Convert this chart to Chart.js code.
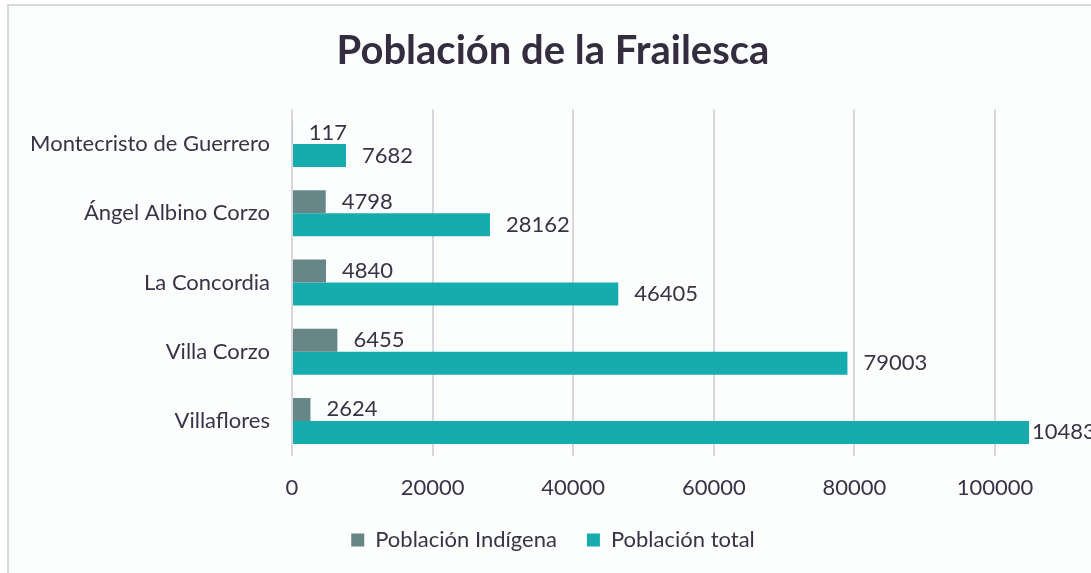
<!DOCTYPE html>
<html>
<head>
<meta charset="utf-8">
<script src="https://cdn.jsdelivr.net/npm/chart.js@4"></script>
<style>
  html, body { margin: 0; padding: 0; background: #ffffff; overflow: hidden; width: 1091px; height: 573px; }
  #box { position: absolute; left: 7px; top: 4px; width: 1088px; height: 600px; border-left: 2px solid #d9d9dd; border-top: 2px solid #d9d9dd; background: #fcfdfd; }
  canvas { display: block; }
</style>
</head>
<body>
<div id="box"><canvas id="c" width="1088" height="555"></canvas></div>
<script>
const titleText = 'Población de la Frailesca';
const categories = ['Montecristo de Guerrero', 'Ángel Albino Corzo', 'La Concordia', 'Villa Corzo', 'Villaflores'];
const seriesNames = ['Población Indígena', 'Población total'];
const indigenous = [117, 4798, 4840, 6455, 2624];
const total = [7682, 28162, 46405, 79003, 104833];
const xTicks = [0, 20000, 40000, 60000, 80000, 100000];

const textColor = '#3a3347';
const fontFamily = 'Lato, "Open Sans", sans-serif';

const valueLabels = {
  id: 'valueLabels',
  afterDatasetsDraw(chart) {
    const ctx = chart.ctx;
    ctx.save();
    ctx.font = '22px ' + fontFamily;
    ctx.fillStyle = textColor;
    ctx.textBaseline = 'middle';
    ctx.textAlign = 'left';
    chart.data.datasets.forEach((ds, i) => {
      const meta = chart.getDatasetMeta(i);
      meta.data.forEach((bar, j) => {
        const txt = String(ds.data[j]);
        const w = ctx.measureText(txt).width;
        const x = Math.max(bar.x + 3, Math.min(bar.x + 16, chart.width - w));
        ctx.fillText(txt, x, bar.y);
      });
    });
    ctx.restore();
  }
};

new Chart(document.getElementById('c'), {
  type: 'bar',
  data: {
    labels: categories,
    datasets: [
      { label: seriesNames[0], data: indigenous, backgroundColor: '#668687', borderWidth: 0, categoryPercentage: 0.665, barPercentage: 1 },
      { label: seriesNames[1], data: total, backgroundColor: '#16acad', borderWidth: 0, categoryPercentage: 0.665, barPercentage: 1 }
    ]
  },
  options: {
    indexAxis: 'y',
    responsive: false,
    animation: false,
    layout: { padding: 0 },
    plugins: {
      title: {
        display: true,
        text: titleText,
        color: '#342d40',
        font: { family: fontFamily, size: 40, weight: 'bold', lineHeight: 1.2 },
        padding: { top: 21.5, bottom: 34 }
      },
      legend: {
        position: 'bottom',
        labels: {
          color: textColor,
          font: { family: fontFamily, size: 22 },
          boxWidth: 13,
          boxHeight: 13,
          padding: 30
        }
      },
      tooltip: { enabled: false }
    },
    scales: {
      x: {
        min: 0,
        max: 114500,
        afterBuildTicks(scale) { scale.ticks = xTicks.map(v => ({ value: v })); },
        afterFit(scale) { scale.height = 43.5; },
        ticks: { includeBounds: false, color: textColor, font: { family: fontFamily, size: 22 }, padding: 19.3, maxRotation: 0, callback: (v) => String(v) },
        grid: { color: '#d8d7de', lineWidth: 2, drawTicks: false },
        border: { display: false }
      },
      y: {
        afterFit(scale) { scale.width = 283; },
        ticks: { color: textColor, font: { family: fontFamily, size: 22 }, padding: 22 },
        grid: { display: false, drawTicks: false },
        border: { display: false }
      }
    }
  },
  plugins: [valueLabels]
});
</script>
</body>
</html>
